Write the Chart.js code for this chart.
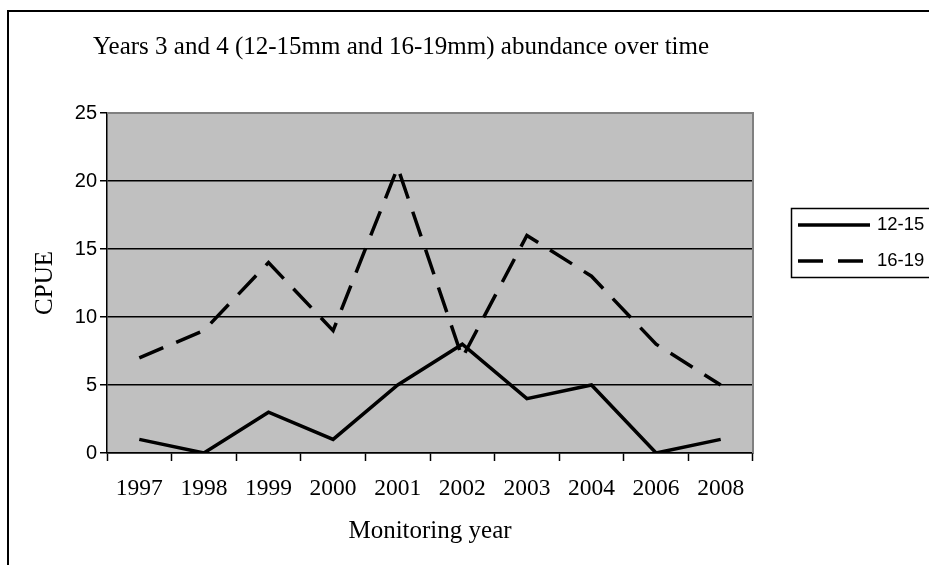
<!DOCTYPE html>
<html>
<head>
<meta charset="utf-8">
<script src="https://cdn.jsdelivr.net/npm/chart.js@4.4.1/dist/chart.umd.min.js"></script>
<style>
  html, body { margin: 0; padding: 0; background: #fff; }
  canvas { display: block; }
</style>
</head>
<body>
<canvas id="cpueChart" width="929" height="565"></canvas>
<script>
// chart data
const years = ['1997', '1998', '1999', '2000', '2001', '2002', '2003', '2004', '2006', '2008'];
const cpue1215 = [1, 0, 3, 1, 5, 8, 4, 5, 0, 1];
const cpue1619 = [7, 9, 14, 9, 21, 7, 16, 13, 8, 5];
const yTicks = [0, 5, 10, 15, 20, 25];

const chartTitle = 'Years 3 and 4 (12-15mm and 16-19mm) abundance over time';
const xTitle = 'Monitoring year';
const yTitle = 'CPUE';

const serif = '"Liberation Serif", "Times New Roman", serif';
const sans = '"Liberation Sans", Arial, sans-serif';

// page border, grey plot background and the texts around the plot
const decorations = {
  id: 'decorations',
  beforeDraw(chart) {
    const ctx = chart.ctx;
    const a = chart.chartArea;
    ctx.save();
    ctx.fillStyle = '#fff';
    ctx.fillRect(0, 0, chart.width, chart.height);
    ctx.strokeStyle = '#000';
    ctx.lineWidth = 2;
    ctx.strokeRect(8, 11, chart.width + 10, chart.height + 10);
    ctx.fillStyle = '#c0c0c0';
    ctx.fillRect(a.left, a.top, a.right - a.left, a.bottom - a.top);
    ctx.restore();
  },
  beforeDatasetsDraw(chart) {
    const ctx = chart.ctx;
    const a = chart.chartArea;
    ctx.save();
    ctx.strokeStyle = '#808080';
    ctx.lineWidth = 2;
    ctx.beginPath();
    ctx.moveTo(a.left, a.top);
    ctx.lineTo(a.right, a.top);
    ctx.lineTo(a.right, a.bottom);
    ctx.stroke();
    ctx.restore();
  },
  afterDraw(chart) {
    const ctx = chart.ctx;
    const a = chart.chartArea;
    ctx.save();
    ctx.fillStyle = '#000';
    ctx.textBaseline = 'middle';

    ctx.font = '25px ' + serif;
    ctx.textAlign = 'left';
    ctx.fillText(chartTitle, 93, 47);

    ctx.textAlign = 'center';
    ctx.fillText(xTitle, (a.left + a.right) / 2, 531);

    ctx.translate(45, (a.top + a.bottom) / 2);
    ctx.rotate(-Math.PI / 2);
    ctx.fillText(yTitle, 0, 0);
    ctx.restore();

    // legend box
    ctx.save();
    ctx.strokeStyle = '#000';
    ctx.fillStyle = '#000';
    ctx.lineWidth = 1.5;
    ctx.strokeRect(791.5, 208.5, 150, 69);
    ctx.font = '18.5px ' + sans;
    ctx.textBaseline = 'middle';
    ctx.textAlign = 'left';
    chart.data.datasets.forEach((ds, i) => {
      const y = 225 + i * 36;
      ctx.lineWidth = ds.borderWidth;
      ctx.setLineDash(ds.borderDash ? [25, 15] : []);
      ctx.beginPath();
      ctx.moveTo(798, y);
      ctx.lineTo(870, y);
      ctx.stroke();
      ctx.setLineDash([]);
      ctx.fillText(ds.label, 877, y);
    });
    ctx.restore();
  }
};

new Chart(document.getElementById('cpueChart'), {
  type: 'line',
  data: {
    labels: years,
    datasets: [
      {
        label: '12-15',
        data: cpue1215,
        borderColor: '#000',
        borderWidth: 3.5,
        tension: 0,
        pointRadius: 0,
        fill: false
      },
      {
        label: '16-19',
        data: cpue1619,
        borderColor: '#000',
        borderWidth: 3.5,
        borderDash: [26, 14],
        tension: 0,
        pointRadius: 0,
        fill: false
      }
    ]
  },
  options: {
    responsive: false,
    animation: false,
    devicePixelRatio: 1,
    layout: { padding: { left: 0, right: 176, top: 113, bottom: 0 } },
    plugins: {
      legend: { display: false },
      title: { display: false },
      tooltip: { enabled: false }
    },
    scales: {
      x: {
        offset: true,
        grid: {
          offset: true,
          drawOnChartArea: false,
          drawTicks: true,
          tickLength: 8,
          tickColor: '#000',
          tickWidth: 1.5
        },
        border: { color: '#000', width: 1.5 },
        ticks: {
          color: '#000',
          font: { family: serif, size: 23.5 },
          maxRotation: 0,
          autoSkip: false,
          padding: 14
        },
        afterFit(scale) { scale.height = 112; }
      },
      y: {
        min: 0,
        max: 25,
        afterBuildTicks(scale) { scale.ticks = yTicks.map(v => ({ value: v })); },
        grid: {
          color: ctx => (ctx.tick && ctx.tick.value === 25 ? '#808080' : '#000'),
          lineWidth: 1.5,
          drawTicks: true,
          tickLength: 7,
          tickColor: '#000'
        },
        border: { color: '#000', width: 1.5 },
        ticks: {
          color: '#000',
          font: { family: sans, size: 20 },
          padding: 3
        },
        afterFit(scale) { scale.width = 107; }
      }
    }
  },
  plugins: [decorations]
});
</script>
</body>
</html>
